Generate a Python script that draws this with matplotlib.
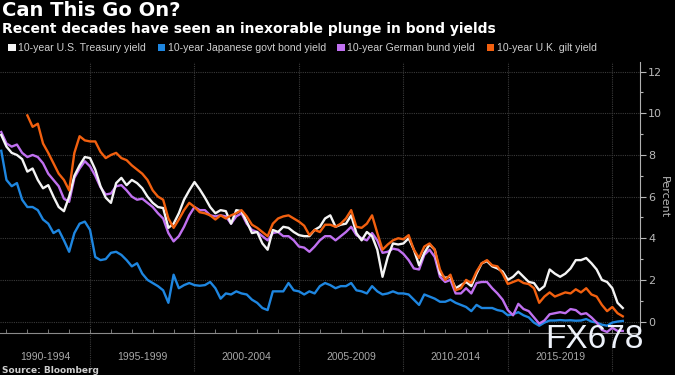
import numpy as np
import matplotlib
matplotlib.use("Agg")
import matplotlib.pyplot as plt
from matplotlib.patches import Patch

# quarterly observations, 1990 Q4 .. 2020 Q3
start_year = 1990.75
step = 0.25

us_yield = [
    8.96, 8.4, 8.1, 8.0, 7.8,            # 1990.75 - 1991.75
    7.2, 7.35, 6.8, 6.4,                 # 1992
    6.55, 6.0, 5.5, 5.3,                 # 1993
    6.0, 7.0, 7.5, 7.9,                  # 1994
    7.85, 7.3, 6.5, 5.95,                # 1995
    5.7, 6.65, 6.9, 6.55,                # 1996
    6.8, 6.65, 6.4, 6.0,                 # 1997
    5.7, 5.5, 5.45, 4.5,                 # 1998
    4.7, 5.2, 5.85, 6.3,                 # 1999
    6.7, 6.35, 5.95, 5.5,                # 2000
    5.2, 5.35, 5.3, 4.7,                 # 2001
    5.35, 5.3, 4.8, 4.25,                # 2002
    4.3, 3.75, 3.45, 4.4,                # 2003
    4.3, 4.55, 4.5, 4.3,                 # 2004
    4.15, 4.1, 4.1, 4.4,                 # 2005
    4.55, 4.95, 5.1, 4.55,               # 2006
    4.65, 4.7, 5.1, 4.25,                # 2007
    3.9, 4.3, 4.1, 3.45,                 # 2008
    2.15, 3.1, 3.75, 3.7,                # 2009
    3.75, 4.0, 3.45, 2.7,                # 2010
    3.3, 3.7, 3.45, 2.3,                 # 2011
    2.1, 2.15, 1.6, 1.75,                # 2012
    1.9, 1.7, 2.3, 2.8,                  # 2013
    2.9, 2.65, 2.55, 2.4,                # 2014
    2.0, 2.15, 2.4, 2.15,                # 2015
    1.9, 1.85, 1.5, 1.7,                 # 2016
    2.5, 2.3, 2.15, 2.3,                 # 2017
    2.55, 2.95, 2.95, 3.05,              # 2018
    2.8, 2.5, 2.0, 1.9,                  # 2019
    1.6, 0.9, 0.65,                      # 2020
]

jp_yield = [
    8.2, 6.8, 6.5, 6.65, 5.85,
    5.5, 5.5, 5.35, 4.9,
    4.7, 4.25, 4.4, 3.9,
    3.35, 4.25, 4.7, 4.8,
    4.4, 3.1, 2.95, 3.0,
    3.3, 3.35, 3.2, 2.95,
    2.65, 2.8, 2.3, 2.0,
    1.85, 1.7, 1.5, 0.9,
    2.25, 1.6, 1.75, 1.85,
    1.75, 1.72, 1.75, 1.9,
    1.6, 1.1, 1.35, 1.3,
    1.45, 1.35, 1.3, 1.05,
    0.9, 0.65, 0.55, 1.45,
    1.45, 1.45, 1.85, 1.5,
    1.45, 1.3, 1.45, 1.35,
    1.7, 1.85, 1.75, 1.6,
    1.7, 1.7, 1.85, 1.5,
    1.45, 1.35, 1.7, 1.45,
    1.3, 1.35, 1.45, 1.35,
    1.35, 1.3, 1.05, 0.8,
    1.3, 1.2, 1.1, 0.95,
    0.95, 1.05, 0.9, 0.8,
    0.7, 0.5, 0.8, 0.65,
    0.65, 0.65, 0.55, 0.5,
    0.3, 0.35, 0.45, 0.3,
    0.2, -0.05, -0.2, -0.05,
    0.05, 0.05, 0.07, 0.05,
    0.06, 0.04, 0.05, 0.12,
    0.0, -0.05, -0.15, -0.2,
    -0.05, 0.0, 0.03,
]

de_yield = [
    9.1, 8.55, 8.4, 8.5, 8.1,
    7.9, 8.0, 7.9, 7.6,
    7.1, 6.8, 6.5, 5.9,
    5.75, 6.9, 7.35, 7.7,
    7.45, 7.0, 6.45, 6.1,
    6.15, 6.5, 6.55, 6.3,
    6.0, 5.85, 5.9, 5.7,
    5.5, 5.2, 4.95, 4.25,
    3.85, 4.1, 4.55, 5.1,
    5.5, 5.35, 5.35, 5.1,
    5.05, 5.1, 5.05, 4.7,
    5.05, 5.2, 4.7, 4.4,
    4.3, 4.1, 3.9, 4.25,
    4.3, 4.1, 4.1, 3.9,
    3.6, 3.55, 3.35, 3.6,
    3.9, 4.1, 4.1, 3.9,
    4.1, 4.3, 4.55, 4.15,
    4.0, 3.9, 4.25, 3.9,
    3.3, 3.35, 3.5, 3.45,
    3.25, 2.95, 2.55, 2.5,
    3.2, 3.45, 3.1, 2.15,
    1.9, 2.0, 1.35, 1.35,
    1.6, 1.35, 1.85, 1.9,
    1.9, 1.6, 1.35, 1.05,
    0.55, 0.3, 0.85, 0.6,
    0.5, 0.2, -0.1, 0.05,
    0.35, 0.4, 0.45, 0.4,
    0.6, 0.55, 0.35, 0.4,
    0.2, -0.05, -0.4, -0.5,
    -0.3, -0.45, -0.45,
]

# gilt series begins in 1992
uk_yield = [
    np.nan, np.nan, np.nan, np.nan, np.nan,
    9.9, 9.35, 9.5, 8.55,
    8.1, 7.6, 7.1, 6.8,
    6.3, 8.1, 8.9, 8.7,
    8.65, 8.65, 8.15, 7.85,
    8.0, 8.1, 7.85, 7.75,
    7.5, 7.3, 7.1, 6.8,
    6.3, 6.0, 5.85, 4.95,
    4.5, 4.9, 5.35, 5.7,
    5.5, 5.25, 5.2, 5.1,
    4.9, 5.1, 4.95, 5.1,
    5.2, 5.35, 5.05, 4.65,
    4.5, 4.3, 4.1, 4.7,
    4.95, 5.05, 5.1, 4.95,
    4.8, 4.6, 4.15, 4.4,
    4.3, 4.65, 4.65, 4.55,
    4.7, 4.95, 5.35, 4.55,
    4.5, 4.7, 5.1, 4.25,
    3.45, 3.7, 3.9, 4.0,
    3.95, 4.15, 3.45, 3.05,
    3.6, 3.75, 3.45, 2.5,
    2.0, 2.25, 1.5, 1.6,
    2.0, 1.85, 2.4, 2.8,
    2.95, 2.7, 2.65, 2.3,
    1.8, 1.9, 2.0, 1.85,
    1.8, 1.6, 0.9, 1.2,
    1.4, 1.2, 1.3, 1.4,
    1.35, 1.55, 1.4, 1.6,
    1.3, 1.2, 0.8, 0.5,
    0.7, 0.4, 0.25,
]

period_labels = ["1990-1994", "1995-1999", "2000-2004", "2005-2009", "2010-2014", "2015-2019"]
period_starts = [1990, 1995, 2000, 2005, 2010, 2015]
series_names = ["10-year U.S. Treasury yield", "10-year Japanese govt bond yield",
                "10-year German bund yield", "10-year U.K. gilt yield"]
colors = ["#f4f4f4", "#1e86e0", "#c070f0", "#f2600f"]

years = start_year + step * np.arange(len(us_yield))

fig = plt.figure(figsize=(6.75, 3.75), dpi=100, facecolor="black")
ax = fig.add_axes([0, 0.112, 0.948, 0.723], facecolor="black")

xmin, xmax = 1990.69, 2021.32
ax.set_xlim(xmin, xmax)
ax.set_ylim(-0.55, 12.47)

# grid
for v in range(0, 13, 2):
    ax.axhline(v, color="#3a3a3a", lw=0.8, ls=(0, (1, 1)), zorder=0)
for yr in period_starts[1:] + [2020]:
    ax.axvline(yr, ymin=-0.14, ymax=1, color="#3a3a3a", lw=0.8, ls=(0, (1, 1)),
               clip_on=False, zorder=0)

# lines
ax.plot(years, jp_yield, color=colors[1], lw=1.7, zorder=2)
ax.plot(years, de_yield, color=colors[2], lw=1.7, zorder=3)
ax.plot(years, us_yield, color=colors[0], lw=1.7, zorder=4)
ax.plot(years, uk_yield, color=colors[3], lw=1.7, zorder=5)

# axes styling
for s in ["left", "top"]:
    ax.spines[s].set_visible(False)
ax.spines["bottom"].set_color("#8a8a8a")
ax.spines["right"].set_color("#b0b0b0")
ax.yaxis.tick_right()
ax.set_yticks(range(0, 13, 2))
ax.set_yticks(range(1, 13, 2), minor=True)
ax.tick_params(axis="y", which="major", colors="#b8b8b8", labelsize=8, length=4, width=0.8, pad=2)
ax.tick_params(axis="y", which="minor", colors="#b8b8b8", length=2, width=0.8)
ax.set_xticks(range(1991, 2021), minor=True)
ax.set_xticks([])
ax.tick_params(axis="x", which="minor", colors="#8a8a8a", length=3, direction="in")
ax.yaxis.set_label_position("right")
ax.set_ylabel("Percent", color="#b8b8b8", fontsize=8, rotation=270, labelpad=5)

# period labels under the axis
edges = [xmin] + period_starts[1:] + [2020]
for i, lab in enumerate(period_labels):
    mid = (edges[i] + edges[i + 1]) / 2
    ax.text(mid, -0.09, lab, transform=ax.get_xaxis_transform(), ha="center", va="center",
            color="#a8a8a8", fontsize=7.5, family="Liberation Sans")

# titles
fig.text(0.003, 0.972, "Can This Go On?", color="white", fontsize=14, fontweight="bold", va="center")
fig.text(0.003, 0.922, "Recent decades have seen an inexorable plunge in bond yields", color="white",
         fontsize=10, fontweight="bold", va="center")

handles = [Patch(facecolor=c, edgecolor="none") for c in colors]
fig.legend(handles, series_names, loc="center left", bbox_to_anchor=(-0.002, 0.872), ncol=4,
           frameon=False, handlelength=0.7, handleheight=0.7, handletextpad=0.25,
           columnspacing=1.1, prop={"family": "Liberation Sans", "size": 7.6}, labelcolor="#d0d0d0")

fig.text(0.003, 0.013, "Source: Bloomberg", color="#cfcfcf", fontsize=6.5, fontweight="bold", va="center")
fig.text(0.808, 0.071, "FX678", color="#eef2fa", fontsize=24, family="Liberation Sans", va="baseline")

fig.savefig("out.png", dpi=100, facecolor="black")
